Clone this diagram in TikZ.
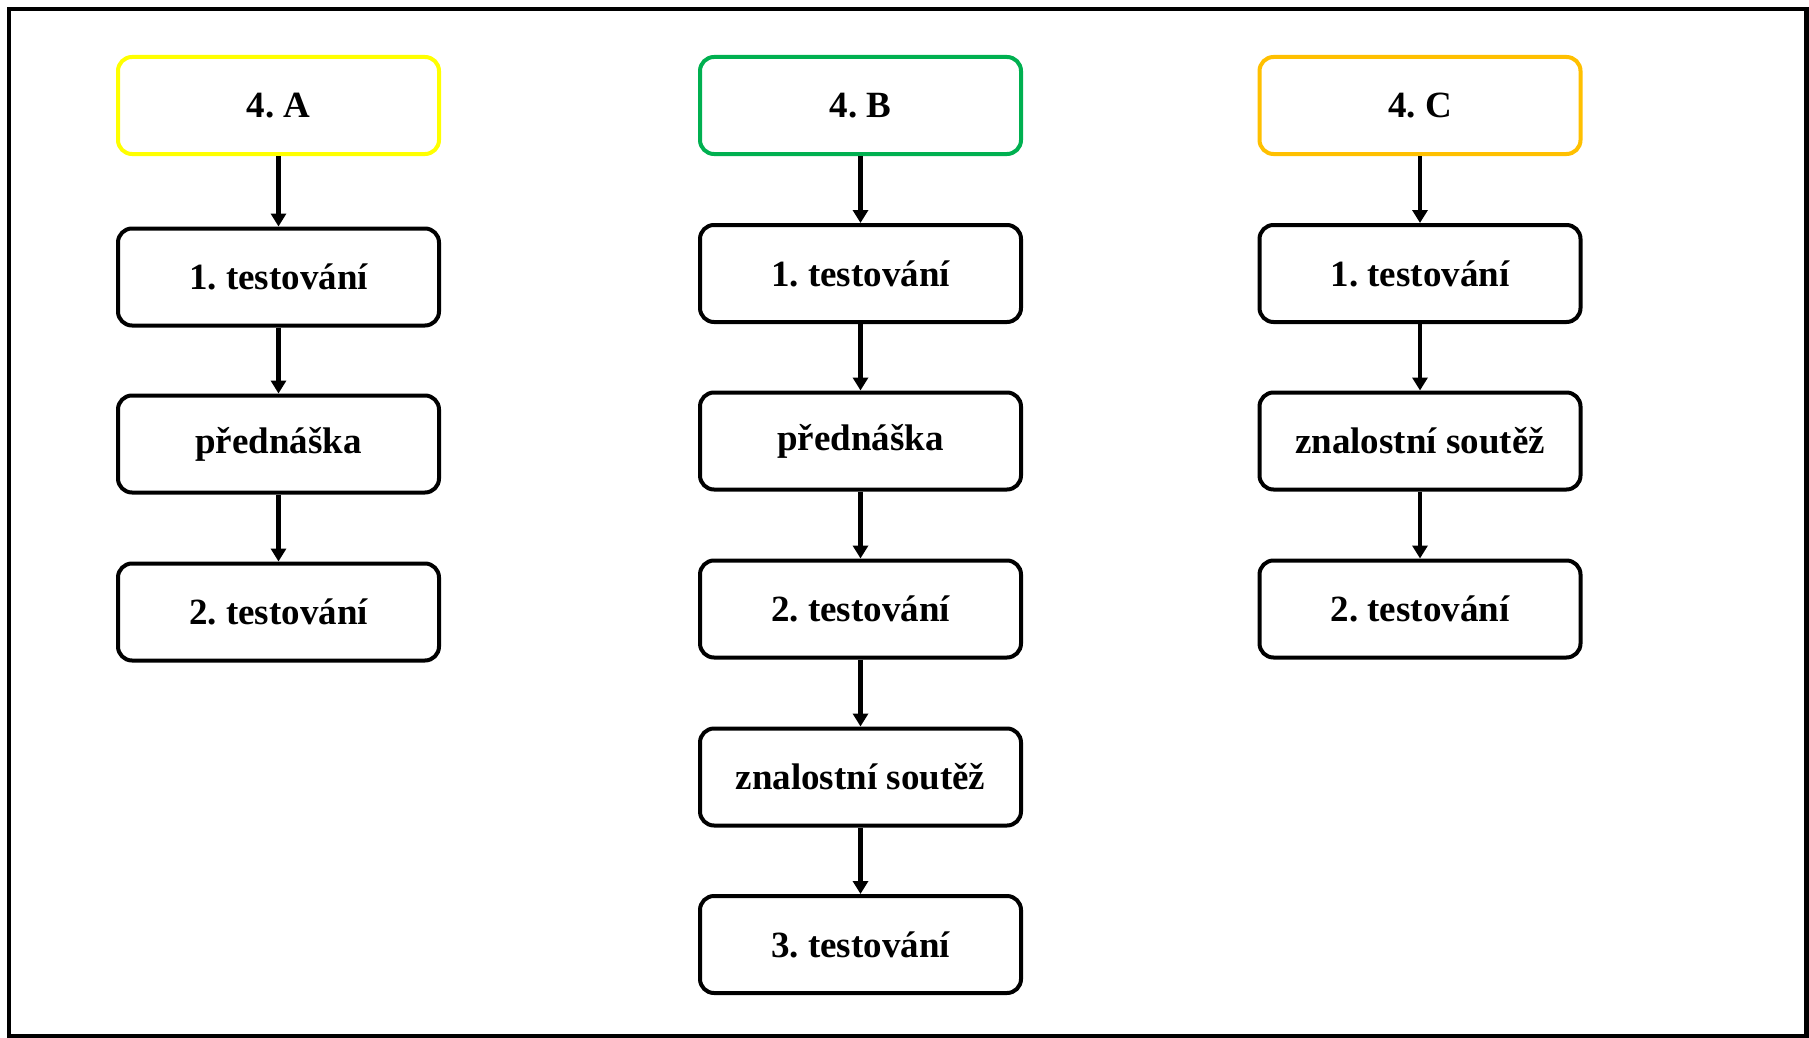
\documentclass[tikz,border=0pt]{standalone}
\usepackage{fontspec}
\setmainfont{Liberation Serif}
\usetikzlibrary{arrows.meta}
\definecolor{hdrA}{HTML}{FFFF00}
\definecolor{hdrB}{HTML}{00B050}
\definecolor{hdrC}{HTML}{FFC000}
\frenchspacing
\tikzset{
  stepbox/.style={draw=black, line width=2pt, rounded corners=7pt, fill=white,
    minimum width=160.5pt, minimum height=48.5pt, inner sep=0pt,
    font=\fontsize{18.5}{20}\selectfont\bfseries},
  hdrbox/.style={stepbox, draw=#1},
  flow/.style={line width=2.3pt, -{Triangle[width=7.5pt,length=6.5pt]}}
}
\begin{document}
\begin{tikzpicture}[x=0.5pt, y=-0.5pt]
\useasboundingbox (0,0) rectangle (1809,1038);
\fill[white] (0,0) rectangle (1809,1038);
\draw[line width=2.2pt] (9,9) rectangle (1806.5,1036.5);

% column A
\node[hdrbox=hdrA] (a0) at (278.5,105.5) {4. A};
\node[stepbox] (a1) at (278.5,277) {1. testování};
\node[stepbox] (a2) at (278.5,444) {přednáška};
\node[stepbox] (a3) at (278.5,612) {2. testování};

% column B
\node[hdrbox=hdrB] (b0) at (860.5,105.5) {4. B};
\node[stepbox] (b1) at (860.5,273.5) {1. testování};
\node[stepbox] (b2) at (860.5,441) {přednáška};
\node[stepbox] (b3) at (860.5,609) {2. testování};
\node[stepbox] (b4) at (860.5,777) {znalostní soutěž};
\node[stepbox] (b5) at (860.5,944.5) {3. testování};

% column C
\node[hdrbox=hdrC] (c0) at (1420,105.5) {4. C};
\node[stepbox] (c1) at (1420,273.5) {1. testování};
\node[stepbox] (c2) at (1420,441) {znalostní soutěž};
\node[stepbox] (c3) at (1420,609) {2. testování};

\draw[flow] (a0) -- (a1);
\draw[flow] (a1) -- (a2);
\draw[flow] (a2) -- (a3);

\draw[flow] (b0) -- (b1);
\draw[flow] (b1) -- (b2);
\draw[flow] (b2) -- (b3);
\draw[flow] (b3) -- (b4);
\draw[flow] (b4) -- (b5);

\draw[flow] (c0) -- (c1);
\draw[flow] (c1) -- (c2);
\draw[flow] (c2) -- (c3);
\end{tikzpicture}
\end{document}
